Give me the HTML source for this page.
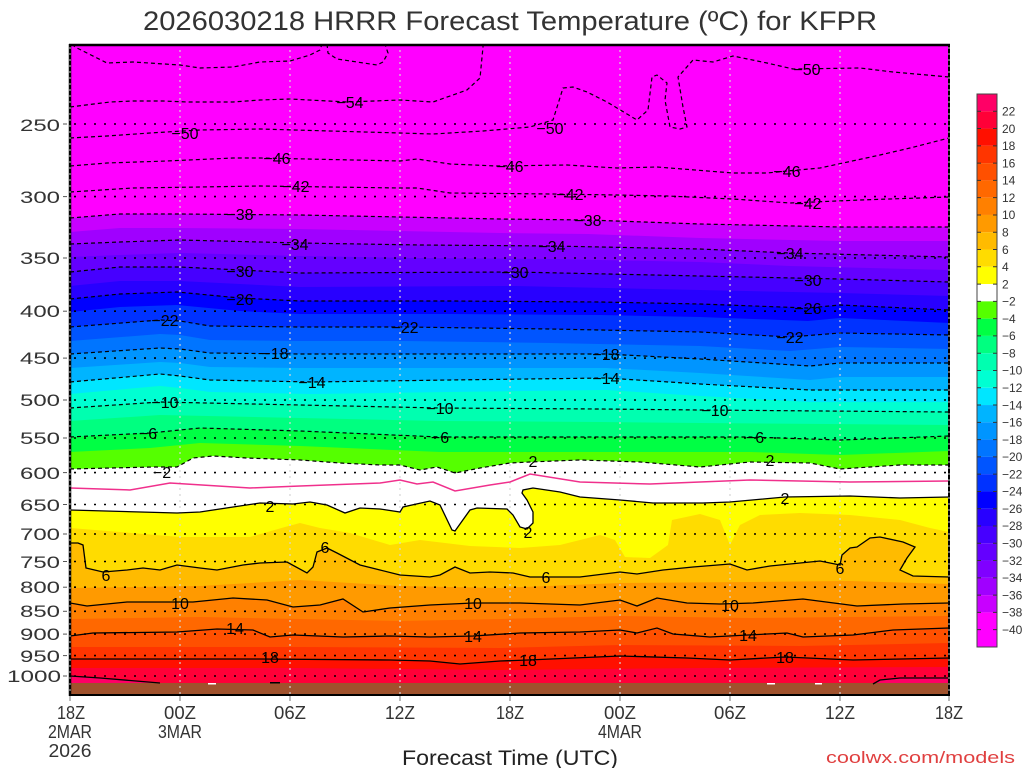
<!DOCTYPE html>
<html>
<head>
<meta charset="utf-8">
<style>
html,body{margin:0;padding:0;background:#fff;}
svg{display:block;}
text{font-family:"Liberation Sans",sans-serif;}
</style>
</head>
<body>
<svg width="1024" height="768" viewBox="0 0 1024 768" xmlns="http://www.w3.org/2000/svg">
<defs>
<clipPath id="c"><rect x="70" y="44" width="879" height="651"/></clipPath>
</defs>
<rect width="1024" height="768" fill="#fff"/>

<!-- Title -->
<text x="143" y="30" font-size="27" fill="#333" textLength="734" lengthAdjust="spacingAndGlyphs">2026030218 HRRR Forecast Temperature (ºC) for KFPR</text>

<g clip-path="url(#c)">
<rect x="70" y="44" width="879" height="651" fill="#ff00ff"/>
<!-- cold bands -->
<polygon fill="#c800ff" points="70,218 120,214 180,214 300,215 400,217 500,219 588,220 700,224 840,227 949,227 949,760 70,760"/>
<polygon fill="#a000ff" transform="translate(0,14)" points="70,218 120,214 180,214 300,215 400,217 500,219 588,220 700,224 840,227 949,227 949,760 70,760"/>
<polygon fill="#8000ff" points="70,244 120,242 180,240 300,243 420,245 552,246 700,249 790,253 949,257 949,760 70,760"/>
<polygon fill="#6400ff" transform="translate(0,13)" points="70,244 120,242 180,240 300,243 420,245 552,246 700,249 790,253 949,257 949,760 70,760"/>
<polygon fill="#4600ff" points="70,272 120,267 180,267 300,273 515,272 700,276 840,279 949,282 949,760 70,760"/>
<polygon fill="#2800ff" transform="translate(0,14)" points="70,272 120,267 180,267 300,273 515,272 700,276 840,279 949,282 949,760 70,760"/>
<polygon fill="#0000ff" points="70,299 120,294 177,292 240,298 300,301 450,301 600,302 700,304 808,308 840,305 949,310 949,760 70,760"/>
<polygon fill="#0032ff" transform="translate(0,13)" points="70,299 120,294 177,292 240,298 300,301 450,301 600,302 700,304 808,308 840,305 949,310 949,760 70,760"/>
<polygon fill="#0055ff" points="70,327 160,320 180,321 210,326 300,327 405,327 550,329 700,332 790,337 840,333 949,335 949,760 70,760"/>
<polygon fill="#0075ff" transform="translate(0,14)" points="70,327 160,320 180,321 210,326 300,327 405,327 550,329 700,332 790,337 840,333 949,335 949,760 70,760"/>
<polygon fill="#0095ff" points="70,354 160,348 180,349 210,353 300,354 450,354 606,354 700,359 810,366 840,363 949,363 949,760 70,760"/>
<polygon fill="#00b4ff" transform="translate(0,14)" points="70,354 160,348 180,349 210,353 300,354 450,354 606,354 700,359 810,366 840,363 949,363 949,760 70,760"/>
<polygon fill="#00e6ff" points="70,382 160,374 180,376 210,380 312,382 450,380 606,378 700,384 810,390 949,390 949,760 70,760"/>
<polygon fill="#00ffd2" transform="translate(0,12)" points="70,382 160,374 180,376 210,380 312,382 450,380 606,378 700,384 810,390 949,390 949,760 70,760"/>
<polygon fill="#00ffb0" points="70,408 160,402 300,405 440,408 600,409 700,410 949,412 949,760 70,760"/>
<polygon fill="#00ff80" transform="translate(0,13)" points="70,408 160,402 300,405 440,408 600,409 700,410 949,412 949,760 70,760"/>
<polygon fill="#00ff44" points="70,437 150,433 200,428 300,431 440,437 600,437 750,437 840,440 949,436 949,760 70,760"/>
<polygon fill="#55ff00" transform="translate(0,15)" points="70,437 150,433 200,428 300,431 440,437 600,437 750,437 840,440 949,436 949,760 70,760"/>
<polygon fill="#ffffff" points="70,469 153,467 177,467 193,458 213,456 247,458 300,460 340,463 380,465 400,465 420,470 437,467 455,473 480,468 510,463 530,462 580,460 640,462 700,467 750,462 810,463 840,469 900,465 949,465 949,760 70,760"/>
<!-- warm bands -->
<polygon fill="#ffff00" points="70,510 177,513 200,512 233,507 260,503 293,504 310,502 327,505 345,513 360,508 380,509 400,512 403,507 430,501 440,505 452,530 455,531 470,510 477,508 507,509 513,515 520,527 527,529 533,523 533,512 527,500 522,493 523,490 533,488 560,492 580,497 620,500 653,503 703,503 730,502 785,497 850,496 900,498 949,497 949,760 70,760"/>
<polygon fill="#ffdc00" points="70,528 120,532 180,537 250,537 285,527 300,523 320,528 350,533 390,545 420,540 470,546 520,548 560,545 600,535 615,540 625,557 650,558 668,545 672,520 700,514 720,520 730,545 740,525 760,515 800,513 850,515 900,520 930,528 949,532 949,760 70,760"/>
<polygon fill="#ffbb00" points="70,543 78,543 83,545 86,568 103,572 127,570 143,568 160,570 177,565 200,568 217,570 243,565 260,563 287,562 307,573 313,567 317,552 327,548 337,553 360,565 380,570 400,575 430,577 440,575 455,567 470,573 490,572 513,573 530,577 580,577 620,572 637,574 663,570 693,567 730,564 747,570 770,566 820,561 840,565 842,555 850,548 857,547 870,538 880,537 903,542 915,547 907,558 900,570 913,576 949,577 949,760 70,760"/>
<polygon fill="#ff9a00" points="70,588 200,586 300,580 400,586 500,588 620,583 750,582 850,581 949,584 949,760 70,760"/>
<polygon fill="#ff8000" points="70,603 87,606 127,602 193,602 233,598 267,600 293,607 320,605 343,599 363,612 390,608 430,605 473,603 520,603 580,605 620,600 637,606 657,598 687,603 720,604 753,603 803,599 857,606 903,604 949,603 949,760 70,760"/>
<polygon fill="#ff6800" points="70,619 200,617 300,619 400,621 500,619 620,616 750,618 949,616 949,760 70,760"/>
<polygon fill="#ff5000" points="70,636 93,633 177,632 217,629 253,630 270,637 293,635 343,637 390,636 430,637 473,636 520,633 580,632 620,630 637,633 657,628 673,634 710,637 748,635 787,633 803,637 853,635 893,630 949,628 949,760 70,760"/>
<polygon fill="#ff3500" points="70,647 300,647 500,648 620,645 800,646 949,643 949,760 70,760"/>
<polygon fill="#ff1000" points="70,659 160,659 260,659 390,660 430,661 460,664 500,661 528,660 620,656 687,658 730,660 785,657 853,660 949,658 949,760 70,760"/>
<polygon fill="#ff0038" points="70,668 300,668 500,670 700,668 949,667 949,760 70,760"/>
<polygon fill="#ff0066" points="70,676 100,678 160,683 160,690 70,690"/>
<polygon fill="#ff0066" points="873,684 880,680 900,678 949,678 949,690 873,690"/>
<rect x="70" y="683" width="879" height="12" fill="#a0522d"/>
<rect x="208" y="683" width="8" height="1.5" fill="#fff"/>
<rect x="270" y="682" width="10" height="1.5" fill="#000"/>
<rect x="767" y="683" width="8" height="1.5" fill="#fff"/>
<rect x="815" y="683" width="7" height="1.5" fill="#fff"/>

<!-- horizontal dotted grid -->
<g stroke="#000" stroke-width="1.6" stroke-dasharray="2,8">
<line x1="74" y1="124" x2="946" y2="124"/>
<line x1="74" y1="196.6" x2="946" y2="196.6"/>
<line x1="74" y1="258" x2="946" y2="258"/>
<line x1="74" y1="311.2" x2="946" y2="311.2"/>
<line x1="74" y1="358.1" x2="946" y2="358.1"/>
<line x1="74" y1="400" x2="946" y2="400"/>
<line x1="74" y1="438" x2="946" y2="438"/>
<line x1="74" y1="472.6" x2="946" y2="472.6"/>
<line x1="74" y1="504.5" x2="946" y2="504.5"/>
<line x1="74" y1="534" x2="946" y2="534"/>
<line x1="74" y1="561.5" x2="946" y2="561.5"/>
<line x1="74" y1="587.2" x2="946" y2="587.2"/>
<line x1="74" y1="611.3" x2="946" y2="611.3"/>
<line x1="74" y1="634.1" x2="946" y2="634.1"/>
<line x1="74" y1="655.6" x2="946" y2="655.6"/>
<line x1="74" y1="676" x2="946" y2="676"/>
</g>
<!-- vertical dotted grid -->
<g stroke="#d4d4d4" stroke-width="1.2" stroke-dasharray="2,4">
<line x1="180" y1="44" x2="180" y2="695"/>
<line x1="290" y1="44" x2="290" y2="695"/>
<line x1="400" y1="44" x2="400" y2="695"/>
<line x1="510" y1="44" x2="510" y2="695"/>
<line x1="620" y1="44" x2="620" y2="695"/>
<line x1="730" y1="44" x2="730" y2="695"/>
<line x1="840" y1="44" x2="840" y2="695"/>
</g>

<!-- dashed contours (negative) -->
<g fill="none" stroke="#000" stroke-width="1.2" stroke-dasharray="4,3">
<polyline points="72,44 75,47 87,53 107,63 133,62 180,65 200,68 233,67 260,62 290,61 310,55 320,50 322,44"/>
<polyline points="327,44 328,53 337,59 377,65 383,62 388,53 385,44"/>
<polyline points="70,107 110,102 133,101 163,101 187,102 233,102 260,100 290,99 347,102 400,100 433,102 467,90 480,78 483,47 483,44"/>
<polyline points="70,138 107,136 150,133 200,130 260,129 400,133 433,134 483,131 530,127 553,120 563,88 573,87 587,92 607,102 637,120 648,110 652,77 657,75 667,83 665,100 670,127 680,129 687,127 683,107 678,77 693,60 713,62 733,56 767,63 793,69 860,68 893,72 949,77"/>
<polyline points="70,166 107,163 167,161 233,158 260,158 400,161 417,159 450,164 497,166 567,165 617,168 657,167 733,173 767,173 787,171 820,168 880,155 910,148 949,138"/>
<polyline points="70,192 133,188 200,187 260,186 400,188 417,188 450,193 553,194 617,195 667,196 733,199 790,203 860,200 949,197"/>
<polyline points="70,218 120,214 180,214 300,215 400,217 500,219 588,220 700,224 840,227 949,227"/>
<polyline points="70,244 120,242 180,240 300,243 420,245 552,246 700,249 790,253 949,257"/>
<polyline points="70,272 120,267 180,267 300,273 515,272 700,276 840,279 949,282"/>
<polyline points="70,299 120,294 177,292 240,298 300,301 450,301 600,302 700,304 808,308 840,305 949,310"/>
<polyline points="70,327 160,320 180,321 210,326 300,327 405,327 550,329 700,332 790,337 840,333 949,335"/>
<polyline points="70,354 160,348 180,349 210,353 300,354 450,354 606,354 700,359 810,366 840,363 949,363"/>
<polyline points="70,382 160,374 180,376 210,380 312,382 450,380 606,378 700,384 810,390 949,390"/>
<polyline points="70,408 160,402 300,405 440,408 600,409 700,410 949,412"/>
<polyline points="70,437 150,433 200,428 300,431 440,437 600,437 750,437 840,440 949,436"/>
<polyline points="70,469 153,467 177,467 193,458 213,456 247,458 300,460 340,463 380,465 400,465 420,470 437,467 455,473 480,468 510,463 530,462 580,460 640,462 700,467 750,462 810,463 840,469 900,465 949,465"/>
</g>
<!-- zero line -->
<polyline fill="none" stroke="#f0308c" stroke-width="1.5" points="70,488 130,490 170,483 250,488 300,486 380,483 400,480 417,484 433,482 455,491 490,485 510,482 530,474 580,482 650,484 750,480 850,482 949,481"/>
<!-- solid contours (positive) -->
<g fill="none" stroke="#000" stroke-width="1.3">
<polyline points="70,510 177,513 200,512 233,507 260,503 293,504 310,502 327,505 345,513 360,508 380,509 400,512 403,507 430,501 440,505 452,530 455,531 470,510 477,508 507,509 513,515 520,527 527,529 533,523 533,512 527,500 522,493 523,490 533,488 560,492 580,497 620,500 653,503 703,503 730,502 785,497 850,496 900,498 949,497"/>
<polyline points="70,543 78,543 83,545 86,568 103,572 127,570 143,568 160,570 177,565 200,568 217,570 243,565 260,563 287,562 307,573 313,567 317,552 327,548 337,553 360,565 380,570 400,575 430,577 440,575 455,567 470,573 490,572 513,573 530,577 580,577 620,572 637,574 663,570 693,567 730,564 747,570 770,566 820,561 840,565 842,555 850,548 857,547 870,538 880,537 903,542 915,547 907,558 900,570 913,576 949,577"/>
<polyline points="70,603 87,606 127,602 193,602 233,598 267,600 293,607 320,605 343,599 363,612 390,608 430,605 473,603 520,603 580,605 620,600 637,606 657,598 687,603 720,604 753,603 803,599 857,606 903,604 949,603"/>
<polyline points="70,636 93,633 177,632 217,629 253,630 270,637 293,635 343,637 390,636 430,637 473,636 520,633 580,632 620,630 637,633 657,628 673,634 710,637 748,635 787,633 803,637 853,635 893,630 949,628"/>
<polyline points="70,659 160,659 260,659 390,660 430,661 460,664 500,661 528,660 620,656 687,658 730,660 785,657 853,660 949,658"/>
<polyline points="70,676 100,678 160,683"/>
<polyline points="873,684 880,680 900,678 949,678"/>
</g>
</g>

<!-- contour labels -->
<g font-size="16" fill="#000" text-anchor="middle">
<text x="350" y="108">−54</text>
<text x="185" y="139">−50</text>
<text x="550" y="134">−50</text>
<text x="807" y="75">−50</text>
<text x="277" y="164">−46</text>
<text x="510" y="172">−46</text>
<text x="787" y="177">−46</text>
<text x="296" y="192">−42</text>
<text x="570" y="200">−42</text>
<text x="808" y="209">−42</text>
<text x="240" y="220">−38</text>
<text x="588" y="226">−38</text>
<text x="295" y="250">−34</text>
<text x="552" y="252">−34</text>
<text x="790" y="259">−34</text>
<text x="240" y="277">−30</text>
<text x="515" y="278">−30</text>
<text x="808" y="286">−30</text>
<text x="240" y="305">−26</text>
<text x="808" y="314">−26</text>
<text x="165" y="326">−22</text>
<text x="405" y="333">−22</text>
<text x="790" y="343">−22</text>
<text x="275" y="359">−18</text>
<text x="606" y="360">−18</text>
<text x="312" y="388">−14</text>
<text x="606" y="384">−14</text>
<text x="165" y="408">−10</text>
<text x="440" y="414">−10</text>
<text x="715" y="416">−10</text>
<text x="148" y="439">−6</text>
<text x="440" y="443">−6</text>
<text x="755" y="443">−6</text>
<text x="162" y="478">−2</text>
<text x="533" y="467">2</text>
<text x="770" y="466">2</text>
<text x="270" y="512">2</text>
<text x="528" y="538">2</text>
<text x="785" y="504">2</text>
<text x="106" y="581">6</text>
<text x="325" y="553">6</text>
<text x="546" y="583">6</text>
<text x="840" y="574">6</text>
<text x="180" y="609">10</text>
<text x="473" y="609">10</text>
<text x="730" y="611">10</text>
<text x="235" y="634">14</text>
<text x="473" y="642">14</text>
<text x="748" y="641">14</text>
<text x="270" y="663">18</text>
<text x="528" y="666">18</text>
<text x="785" y="663">18</text>
</g>

<!-- frame -->
<line x1="69" y1="45" x2="950" y2="45" stroke="#000" stroke-width="2.5"/>
<line x1="69" y1="695" x2="950" y2="695" stroke="#000" stroke-width="2"/>
<line x1="70" y1="44" x2="70" y2="696" stroke="#000" stroke-width="2.5"/>
<line x1="949" y1="44" x2="949" y2="696" stroke="#000" stroke-width="2"/>
<g stroke="#c8c8c8" stroke-width="1" stroke-dasharray="2,4">
<line x1="70" y1="47" x2="70" y2="694"/>
<line x1="949" y1="47" x2="949" y2="694"/>
</g>

<!-- y ticks -->
<g stroke="#555" stroke-width="1">
<line x1="63" y1="124" x2="67" y2="124"/>
<line x1="63" y1="196.6" x2="67" y2="196.6"/>
<line x1="63" y1="258" x2="67" y2="258"/>
<line x1="63" y1="311.2" x2="67" y2="311.2"/>
<line x1="63" y1="358.1" x2="67" y2="358.1"/>
<line x1="63" y1="400" x2="67" y2="400"/>
<line x1="63" y1="438" x2="67" y2="438"/>
<line x1="63" y1="472.6" x2="67" y2="472.6"/>
<line x1="63" y1="504.5" x2="67" y2="504.5"/>
<line x1="63" y1="534" x2="67" y2="534"/>
<line x1="63" y1="561.5" x2="67" y2="561.5"/>
<line x1="63" y1="587.2" x2="67" y2="587.2"/>
<line x1="63" y1="611.3" x2="67" y2="611.3"/>
<line x1="63" y1="634.1" x2="67" y2="634.1"/>
<line x1="63" y1="655.6" x2="67" y2="655.6"/>
<line x1="63" y1="676" x2="67" y2="676"/>
</g>
<!-- x ticks -->
<g stroke="#777" stroke-width="1">
<line x1="70" y1="696" x2="70" y2="701"/>
<line x1="180" y1="696" x2="180" y2="701"/>
<line x1="290" y1="696" x2="290" y2="701"/>
<line x1="400" y1="696" x2="400" y2="701"/>
<line x1="510" y1="696" x2="510" y2="701"/>
<line x1="620" y1="696" x2="620" y2="701"/>
<line x1="730" y1="696" x2="730" y2="701"/>
<line x1="840" y1="696" x2="840" y2="701"/>
<line x1="949" y1="696" x2="949" y2="701"/>
</g>

<!-- y labels -->
<g font-size="17" fill="#333">
<text x="20" y="131" textLength="40" lengthAdjust="spacingAndGlyphs">250</text>
<text x="20" y="203" textLength="40" lengthAdjust="spacingAndGlyphs">300</text>
<text x="20" y="264" textLength="40" lengthAdjust="spacingAndGlyphs">350</text>
<text x="20" y="317" textLength="40" lengthAdjust="spacingAndGlyphs">400</text>
<text x="20" y="364" textLength="40" lengthAdjust="spacingAndGlyphs">450</text>
<text x="20" y="406" textLength="40" lengthAdjust="spacingAndGlyphs">500</text>
<text x="20" y="444" textLength="40" lengthAdjust="spacingAndGlyphs">550</text>
<text x="20" y="479" textLength="40" lengthAdjust="spacingAndGlyphs">600</text>
<text x="20" y="511" textLength="40" lengthAdjust="spacingAndGlyphs">650</text>
<text x="20" y="540" textLength="40" lengthAdjust="spacingAndGlyphs">700</text>
<text x="20" y="568" textLength="40" lengthAdjust="spacingAndGlyphs">750</text>
<text x="20" y="593" textLength="40" lengthAdjust="spacingAndGlyphs">800</text>
<text x="20" y="617" textLength="40" lengthAdjust="spacingAndGlyphs">850</text>
<text x="20" y="640" textLength="40" lengthAdjust="spacingAndGlyphs">900</text>
<text x="20" y="662" textLength="40" lengthAdjust="spacingAndGlyphs">950</text>
<text x="7" y="682" textLength="54" lengthAdjust="spacingAndGlyphs">1000</text>
</g>

<!-- x labels -->
<g font-size="18" fill="#333" text-anchor="middle">
<text x="71" y="719" textLength="28" lengthAdjust="spacingAndGlyphs">18Z</text>
<text x="70" y="738" textLength="44" lengthAdjust="spacingAndGlyphs">2MAR</text>
<text x="70" y="757" textLength="43" lengthAdjust="spacingAndGlyphs">2026</text>
<text x="180" y="719" textLength="32" lengthAdjust="spacingAndGlyphs">00Z</text>
<text x="180" y="738" textLength="44" lengthAdjust="spacingAndGlyphs">3MAR</text>
<text x="290" y="719" textLength="32" lengthAdjust="spacingAndGlyphs">06Z</text>
<text x="400" y="719" textLength="30" lengthAdjust="spacingAndGlyphs">12Z</text>
<text x="510" y="719" textLength="28" lengthAdjust="spacingAndGlyphs">18Z</text>
<text x="620" y="719" textLength="32" lengthAdjust="spacingAndGlyphs">00Z</text>
<text x="620" y="738" textLength="44" lengthAdjust="spacingAndGlyphs">4MAR</text>
<text x="730" y="719" textLength="32" lengthAdjust="spacingAndGlyphs">06Z</text>
<text x="840" y="719" textLength="30" lengthAdjust="spacingAndGlyphs">12Z</text>
<text x="949" y="719" textLength="28" lengthAdjust="spacingAndGlyphs">18Z</text>
</g>
<text x="402" y="765" font-size="21" fill="#222" textLength="216" lengthAdjust="spacingAndGlyphs">Forecast Time (UTC)</text>
<text x="826" y="763" font-size="17" fill="#e04040" textLength="189" lengthAdjust="spacingAndGlyphs">coolwx.com/models</text>

<!-- colorbar -->
<g>
<rect x="977" y="94" width="20" height="17.28" fill="#ff0066"/>
<rect x="977" y="111.28" width="20" height="17.28" fill="#ff0038"/>
<rect x="977" y="128.56" width="20" height="17.28" fill="#ff1000"/>
<rect x="977" y="145.84" width="20" height="17.28" fill="#ff3500"/>
<rect x="977" y="163.12" width="20" height="17.28" fill="#ff5000"/>
<rect x="977" y="180.4" width="20" height="17.28" fill="#ff6800"/>
<rect x="977" y="197.68" width="20" height="17.28" fill="#ff8000"/>
<rect x="977" y="214.96" width="20" height="17.28" fill="#ff9a00"/>
<rect x="977" y="232.24" width="20" height="17.28" fill="#ffbb00"/>
<rect x="977" y="249.52" width="20" height="17.28" fill="#ffdc00"/>
<rect x="977" y="266.8" width="20" height="17.28" fill="#ffff00"/>
<rect x="977" y="284.08" width="20" height="17.28" fill="#ffffff"/>
<rect x="977" y="301.36" width="20" height="17.28" fill="#55ff00"/>
<rect x="977" y="318.64" width="20" height="17.28" fill="#00ff44"/>
<rect x="977" y="335.92" width="20" height="17.28" fill="#00ff80"/>
<rect x="977" y="353.2" width="20" height="17.28" fill="#00ffb0"/>
<rect x="977" y="370.48" width="20" height="17.28" fill="#00ffd2"/>
<rect x="977" y="387.76" width="20" height="17.28" fill="#00e6ff"/>
<rect x="977" y="405.04" width="20" height="17.28" fill="#00b4ff"/>
<rect x="977" y="422.32" width="20" height="17.28" fill="#0095ff"/>
<rect x="977" y="439.6" width="20" height="17.28" fill="#0075ff"/>
<rect x="977" y="456.88" width="20" height="17.28" fill="#0055ff"/>
<rect x="977" y="474.16" width="20" height="17.28" fill="#0032ff"/>
<rect x="977" y="491.44" width="20" height="17.28" fill="#0000ff"/>
<rect x="977" y="508.72" width="20" height="17.28" fill="#2800ff"/>
<rect x="977" y="526" width="20" height="17.28" fill="#4600ff"/>
<rect x="977" y="543.28" width="20" height="17.28" fill="#6400ff"/>
<rect x="977" y="560.56" width="20" height="17.28" fill="#8000ff"/>
<rect x="977" y="577.84" width="20" height="17.28" fill="#a000ff"/>
<rect x="977" y="595.12" width="20" height="17.28" fill="#c800ff"/>
<rect x="977" y="612.4" width="20" height="34.6" fill="#ff00ff"/>
<rect x="977" y="94" width="20" height="553" fill="none" stroke="#444" stroke-width="1"/>
<g stroke="#333" stroke-width="1">
<path d="M977 111.28h4M993 111.28h4M977 128.56h4M993 128.56h4M977 145.84h4M993 145.84h4M977 163.12h4M993 163.12h4M977 180.4h4M993 180.4h4M977 197.68h4M993 197.68h4M977 214.96h4M993 214.96h4M977 232.24h4M993 232.24h4M977 249.52h4M993 249.52h4M977 266.8h4M993 266.8h4M977 284.08h4M993 284.08h4M977 301.36h4M993 301.36h4M977 318.64h4M993 318.64h4M977 335.92h4M993 335.92h4M977 353.2h4M993 353.2h4M977 370.48h4M993 370.48h4M977 387.76h4M993 387.76h4M977 405.04h4M993 405.04h4M977 422.32h4M993 422.32h4M977 439.6h4M993 439.6h4M977 456.88h4M993 456.88h4M977 474.16h4M993 474.16h4M977 491.44h4M993 491.44h4M977 508.72h4M993 508.72h4M977 526h4M993 526h4M977 543.28h4M993 543.28h4M977 560.56h4M993 560.56h4M977 577.84h4M993 577.84h4M977 595.12h4M993 595.12h4M977 612.4h4M993 612.4h4M977 629.68h4M993 629.68h4"/>
</g>
<g font-size="12" fill="#333">
<text x="1002" y="115.5">22</text>
<text x="1002" y="132.8">20</text>
<text x="1002" y="150.1">18</text>
<text x="1002" y="167.4">16</text>
<text x="1002" y="184.6">14</text>
<text x="1002" y="201.9">12</text>
<text x="1002" y="219.2">10</text>
<text x="1002" y="236.5">8</text>
<text x="1002" y="253.8">6</text>
<text x="1002" y="271">4</text>
<text x="1002" y="288.3">2</text>
<text x="1002" y="305.6">−2</text>
<text x="1002" y="322.9">−4</text>
<text x="1002" y="340.2">−6</text>
<text x="1002" y="357.4">−8</text>
<text x="1002" y="374.7">−10</text>
<text x="1002" y="392">−12</text>
<text x="1002" y="409.3">−14</text>
<text x="1002" y="426.6">−16</text>
<text x="1002" y="443.8">−18</text>
<text x="1002" y="461.1">−20</text>
<text x="1002" y="478.4">−22</text>
<text x="1002" y="495.7">−24</text>
<text x="1002" y="513">−26</text>
<text x="1002" y="530.2">−28</text>
<text x="1002" y="547.5">−30</text>
<text x="1002" y="564.8">−32</text>
<text x="1002" y="582.1">−34</text>
<text x="1002" y="599.4">−36</text>
<text x="1002" y="616.6">−38</text>
<text x="1002" y="633.9">−40</text>
</g>
</g>
</svg>
</body>
</html>
